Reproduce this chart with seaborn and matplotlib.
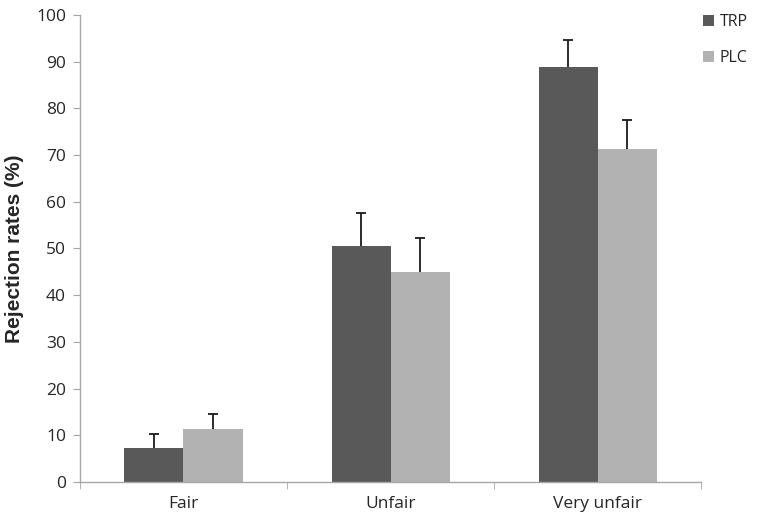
import numpy as np
import pandas as pd
import matplotlib
matplotlib.use("Agg")
import matplotlib.pyplot as plt
import seaborn as sns

# ─── Data ─────────────────────────────────────────────────────────────────────
conditions = ["Fair", "Unfair", "Very unfair"]
groups = ["TRP", "PLC"]
trp_rates = [7.3, 50.5, 88.9]
plc_rates = [11.4, 45.0, 71.3]
trp_err = [3.0, 7.1, 5.7]
plc_err = [3.1, 7.3, 6.2]

colors = {"TRP": "#595959", "PLC": "#b2b2b2"}

df = pd.DataFrame({
    "condition": conditions * 2,
    "group": ["TRP"] * 3 + ["PLC"] * 3,
    "rate": trp_rates + plc_rates,
    "err": trp_err + plc_err,
})

sns.set_style("white")
plt.rcParams["font.family"] = ["Open Sans", "DejaVu Sans"]

fig = plt.figure(figsize=(7.58, 5.24), dpi=100)
ax = fig.add_axes([0.1055, 0.0802, 0.8195, 0.8912])

sns.barplot(data=df, x="condition", y="rate", hue="group", order=conditions,
            hue_order=groups, palette=colors, width=0.57, gap=0,
            errorbar=None, saturation=1, ax=ax, edgecolor="none", zorder=2)

# error bars drawn behind the bars so only the upper half shows
for container, g in zip(ax.containers, groups):
    errs = df[df.group == g].set_index("condition").loc[conditions, "err"].values
    for bar, e in zip(container, errs):
        x = bar.get_x() + bar.get_width() / 2
        h = bar.get_height()
        ax.errorbar(x, h, yerr=e, fmt="none", ecolor="#1a1a1a",
                    elinewidth=1.3, capsize=3.5, capthick=1.3, zorder=1)

ax.set_xlim(-0.5, 2.5)
ax.set_ylim(0, 100)
ax.set_yticks(np.arange(0, 101, 10))
ax.set_xlabel("")
ax.set_ylabel("Rejection rates (%)", fontsize=15, fontweight="bold",
              family=["Liberation Sans", "DejaVu Sans"], labelpad=9)

for side in ["top", "right"]:
    ax.spines[side].set_visible(False)
for side in ["left", "bottom"]:
    ax.spines[side].set_color("#a6a6a6")
    ax.spines[side].set_linewidth(1.0)

ax.tick_params(axis="y", direction="out", length=5, color="#a6a6a6",
               labelsize=12.5, left=True, pad=5)
ax.tick_params(axis="x", which="major", length=0, labelsize=12.5, pad=10)
ax.set_xticks([-0.5, 0.5, 1.5, 2.5], minor=True)
ax.tick_params(axis="x", which="minor", direction="out", length=5,
               color="#a6a6a6", bottom=True)

leg = ax.legend(loc="upper left", bbox_to_anchor=(0.928, 0.973),
                bbox_transform=fig.transFigure, frameon=False,
                fontsize=11.5, handlelength=0.65, handleheight=0.65,
                handletextpad=0.35, labelspacing=1.25,
                borderpad=0, borderaxespad=0)

fig.savefig("out.png", dpi=100)
